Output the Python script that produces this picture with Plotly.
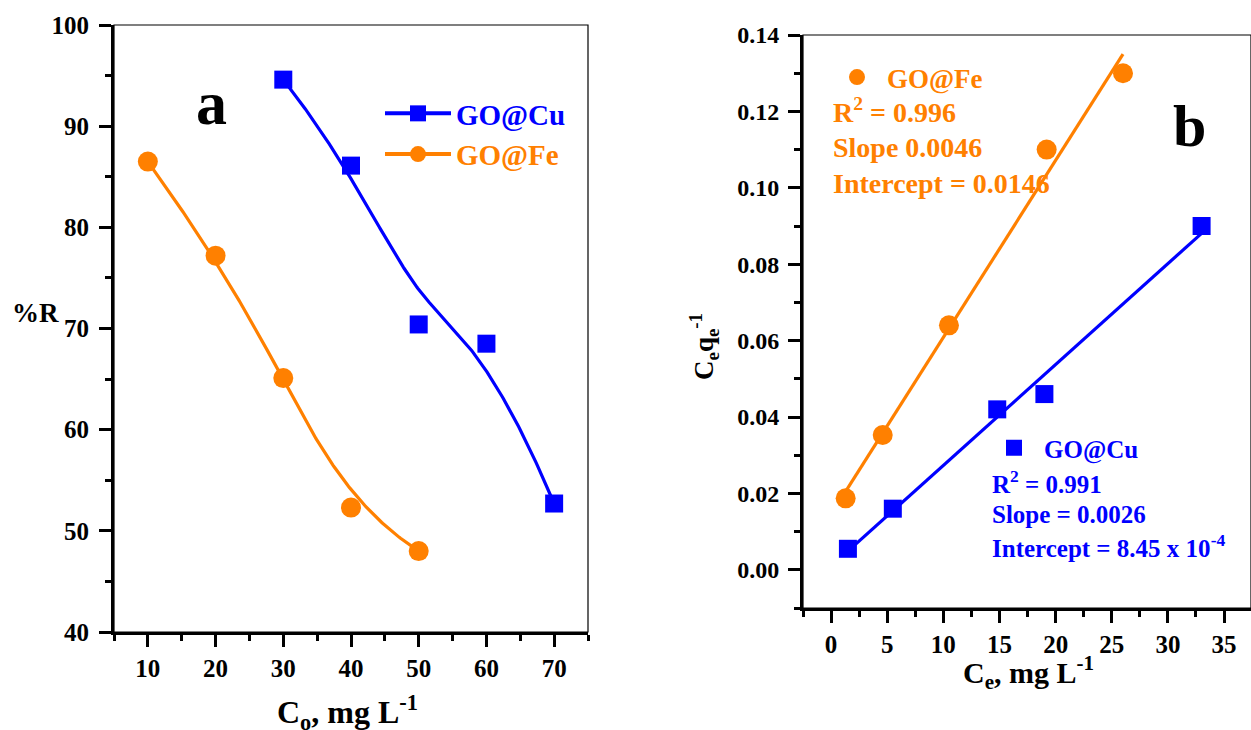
import numpy as np
import plotly.graph_objects as go

# ---------------- data ----------------
# panel a : %R vs C0
c0_cu = [30, 40, 50, 60, 70]
r_cu = [94.6, 86.1, 70.4, 68.5, 52.7]
c0_fe = [10, 20, 30, 40, 50]
r_fe = [86.5, 77.2, 65.1, 52.3, 48.0]

# panel b : Ce/qe vs Ce
ce_fe = [1.3, 4.6, 10.5, 19.2, 26.0]
cq_fe = [0.0187, 0.0353, 0.064, 0.110, 0.130]
ce_cu = [1.5, 5.5, 14.8, 19.0, 33.0]
cq_cu = [0.0055, 0.016, 0.042, 0.046, 0.090]

a_xticks = [10, 20, 30, 40, 50, 60, 70]
a_yticks = [40, 50, 60, 70, 80, 90, 100]
b_xticks = [0, 5, 10, 15, 20, 25, 30, 35]
b_yticks = [0.00, 0.02, 0.04, 0.06, 0.08, 0.10, 0.12, 0.14]

BLUE = "#0000FF"
ORANGE = "#FF8000"
FONT = "Liberation Serif, Times New Roman, serif"
W, H = 1251, 730


def bspline(xs, ys, n=300, k=3):
    """Clamped cubic B-spline using the data points as control points."""
    P = np.column_stack([xs, ys]).astype(float)
    m = len(P)
    knots = np.concatenate([np.zeros(k), np.linspace(0, 1, m - k + 1), np.ones(k)])
    t = np.linspace(0, 1, n)
    t[-1] = 1 - 1e-12
    N = np.zeros((n, len(knots) - 1))
    for i in range(len(knots) - 1):
        N[:, i] = ((t >= knots[i]) & (t < knots[i + 1])).astype(float)
    for d in range(1, k + 1):
        Nn = np.zeros((n, len(knots) - 1 - d))
        for i in range(len(knots) - 1 - d):
            a = knots[i + d] - knots[i]
            b = knots[i + d + 1] - knots[i + 1]
            term = np.zeros(n)
            if a > 0:
                term += (t - knots[i]) / a * N[:, i]
            if b > 0:
                term += (knots[i + d + 1] - t) / b * N[:, i + 1]
            Nn[:, i] = term
        N = Nn
    C = N @ P
    return C[:, 0], C[:, 1]


def px(x):
    return x / W


def py(y):
    return 1 - y / H


def tf(size, color="black"):
    return dict(family=FONT, size=size, color=color, weight="bold")


fig = go.Figure()

# ---- panel a ----
sx, sy = bspline(c0_cu, r_cu)
fig.add_trace(go.Scatter(x=sx, y=sy, mode="lines", line=dict(color=BLUE, width=3.2),
                         showlegend=False, hoverinfo="skip", xaxis="x", yaxis="y"))
fig.add_trace(go.Scatter(x=c0_cu, y=r_cu, mode="markers",
                         marker=dict(symbol="square", size=18, color=BLUE),
                         showlegend=False, xaxis="x", yaxis="y"))
sx, sy = bspline(c0_fe, r_fe)
fig.add_trace(go.Scatter(x=sx, y=sy, mode="lines", line=dict(color=ORANGE, width=3.2),
                         showlegend=False, hoverinfo="skip", xaxis="x", yaxis="y"))
fig.add_trace(go.Scatter(x=c0_fe, y=r_fe, mode="markers",
                         marker=dict(symbol="circle", size=20, color=ORANGE),
                         showlegend=False, xaxis="x", yaxis="y"))
# legend entries (line+marker)
fig.add_trace(go.Scatter(x=[None], y=[None], mode="lines+markers",
                         line=dict(color=BLUE, width=4),
                         marker=dict(symbol="square", size=18, color=BLUE),
                         name=f'<span style="color:{BLUE}">GO@Cu</span>',
                         legend="legend", xaxis="x", yaxis="y"))
fig.add_trace(go.Scatter(x=[None], y=[None], mode="lines+markers",
                         line=dict(color=ORANGE, width=4),
                         marker=dict(symbol="circle", size=20, color=ORANGE),
                         name=f'<span style="color:{ORANGE}">GO@Fe</span>',
                         legend="legend", xaxis="x", yaxis="y"))

# ---- panel b ----
p_fe = np.polyfit(ce_fe, cq_fe, 1)
p_cu = np.polyfit(ce_cu, cq_cu, 1)
lx_fe = np.array([min(ce_fe), max(ce_fe)])
lx_cu = np.array([min(ce_cu), max(ce_cu)])
fig.add_trace(go.Scatter(x=lx_fe, y=np.polyval(p_fe, lx_fe), mode="lines",
                         line=dict(color=ORANGE, width=3.2), showlegend=False,
                         hoverinfo="skip", xaxis="x2", yaxis="y2"))
fig.add_trace(go.Scatter(x=lx_cu, y=np.polyval(p_cu, lx_cu), mode="lines",
                         line=dict(color=BLUE, width=3.2), showlegend=False,
                         hoverinfo="skip", xaxis="x2", yaxis="y2"))
fig.add_trace(go.Scatter(x=ce_fe, y=cq_fe, mode="markers",
                         marker=dict(symbol="circle", size=20, color=ORANGE),
                         name=f'<span style="color:{ORANGE}">GO@Fe</span>',
                         legend="legend2", xaxis="x2", yaxis="y2"))
fig.add_trace(go.Scatter(x=ce_cu, y=cq_cu, mode="markers",
                         marker=dict(symbol="square", size=18, color=BLUE),
                         name=f'<span style="color:{BLUE}">GO@Cu</span>',
                         legend="legend3", xaxis="x2", yaxis="y2"))

axis_common = dict(showline=True, linecolor="black", linewidth=3, ticks="outside",
                   ticklen=12, tickwidth=3, tickcolor="black", showgrid=False,
                   zeroline=False, automargin=False)


def minor(dt):
    return dict(dtick=dt, ticklen=6, tickwidth=3, ticks="outside", tickcolor="black")


fig.update_layout(
    width=W, height=H,
    margin=dict(l=0, r=0, t=0, b=0),
    paper_bgcolor="white", plot_bgcolor="white",
    font=tf(24),
    xaxis=dict(domain=[px(114), px(588)], range=[5, 75], tickvals=a_xticks,
               minor=minor(5), tickfont=tf(25), anchor="y", **axis_common),
    yaxis=dict(domain=[py(632), py(25)], range=[40, 100], tickvals=a_yticks,
               minor=minor(5), tickfont=tf(25), anchor="x", ticklabelstandoff=5,
               **axis_common),
    xaxis2=dict(domain=[px(803), 1.0], range=[-2.5, 37.4], tickvals=b_xticks,
                minor=minor(2.5), tickfont=tf(25), anchor="y2", **axis_common),
    yaxis2=dict(domain=[py(608), py(35)], range=[-0.01, 0.14], tickvals=b_yticks,
                ticktext=[f"{v:.2f}" for v in b_yticks],
                minor=minor(0.01), tickfont=tf(24), anchor="x2", ticklabelstandoff=4,
                **axis_common),
    legend=dict(x=px(380), y=py(88), xanchor="left", yanchor="top",
                bgcolor="rgba(0,0,0,0)", itemwidth=66, font=tf(29)),
    legend2=dict(x=px(827), y=py(53), xanchor="left", yanchor="top",
                 bgcolor="rgba(0,0,0,0)", itemwidth=50, font=tf(27)),
    legend3=dict(x=px(984), y=py(425), xanchor="left", yanchor="top",
                 bgcolor="rgba(0,0,0,0)", itemwidth=50, font=tf(25)),
)

# thin frames
for xr, yr in (("x domain", "y domain"), ("x2 domain", "y2 domain")):
    fig.add_shape(type="rect", xref=xr, yref=yr, x0=0, x1=1, y0=0, y1=1,
                  line=dict(color="black", width=1.2), layer="above")

ann = []
# panel labels
ann.append(dict(text="a", x=px(211), y=py(103), size=62))
ann.append(dict(text="b", x=px(1189), y=py(126), size=60))
# axis titles
ann.append(dict(text="%R", x=px(35), y=py(313), size=27))
ann.append(dict(text="C<sub>o</sub>, mg L<sup>-1</sup>", x=px(347), y=py(712), size=32))
ann.append(dict(text="C<sub>e</sub>, mg L<sup>-1</sup>", x=px(1028), y=py(672), size=30))
ann.append(dict(text="C<sub>e</sub>q<sub>e</sub><sup>-1</sup>", x=px(704), y=py(347),
                textangle=-90, size=27))
# fit statistics
for i, t in enumerate(["R<sup>2</sup> = 0.996", "Slope 0.0046", "Intercept = 0.0146"]):
    ann.append(dict(text=t, x=px(831), y=py(111 + 36 * i), xanchor="left",
                    size=28, color=ORANGE))
for i, t in enumerate(["R<sup>2</sup> = 0.991", "Slope = 0.0026", "Intercept = 8.45 x 10<sup>-4</sup>"]):
    ann.append(dict(text=t, x=px(990), y=py(482 + 32 * i), xanchor="left",
                    size=25, color=BLUE))

for a in ann:
    size = a.pop("size")
    color = a.pop("color", "black")
    a.setdefault("xanchor", "center")
    fig.add_annotation(xref="paper", yref="paper", yanchor="middle", showarrow=False,
                       font=tf(size, color), **a)

fig.write_html(
    "out.html",
    config={"displayModeBar": False},
    post_script="document.body.style.margin='0';document.body.style.overflow='hidden';",
)
